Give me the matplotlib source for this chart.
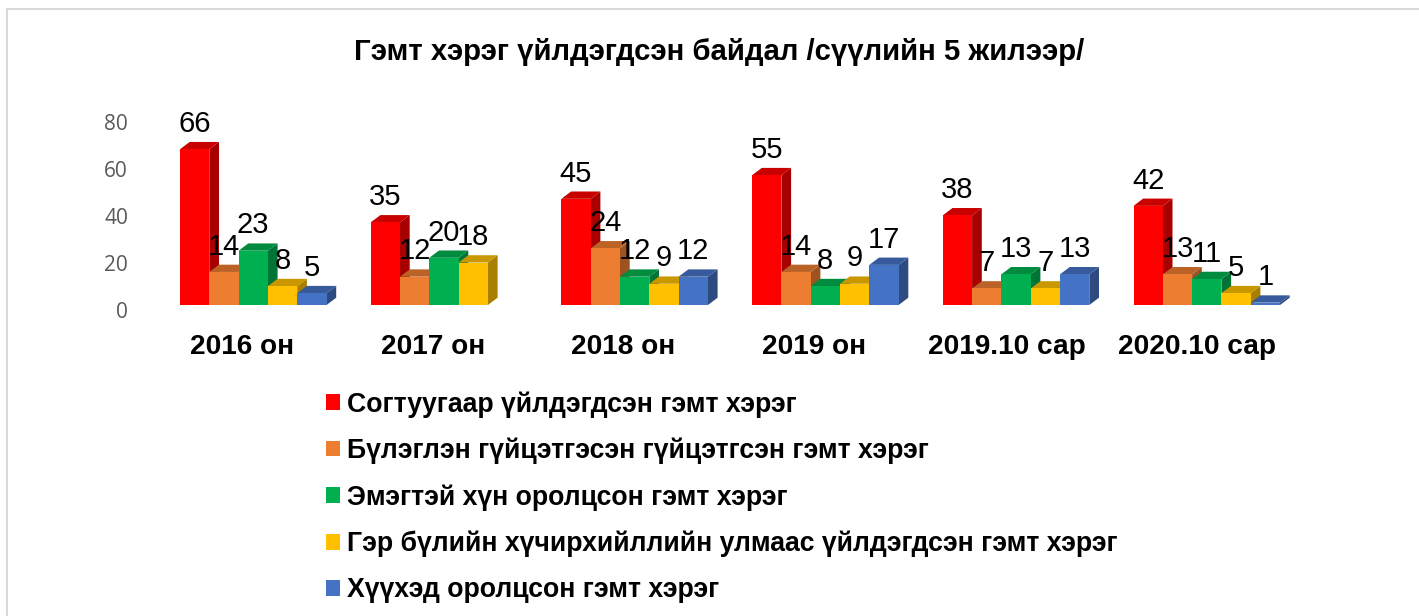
import matplotlib
matplotlib.use("Agg")
import matplotlib.pyplot as plt
from matplotlib.patches import Patch
from matplotlib.transforms import ScaledTranslation
from matplotlib.colors import to_rgb
import numpy as np

categories = ["2016 он", "2017 он", "2018 он", "2019 он", "2019.10 сар", "2020.10 сар"]
series_names = [
    "Согтуугаар үйлдэгдсэн гэмт хэрэг",
    "Бүлэглэн гүйцэтгэсэн гүйцэтгсэн гэмт хэрэг",
    "Эмэгтэй хүн оролцсон гэмт хэрэг",
    "Гэр бүлийн хүчирхийллийн улмаас үйлдэгдсэн гэмт хэрэг",
    "Хүүхэд оролцсон гэмт хэрэг",
]
drunk = [66, 35, 45, 55, 38, 42]
group_crime = [14, 12, 24, 14, 7, 13]
women = [23, 20, 12, 8, 13, 11]
domestic = [8, 18, 9, 9, 7, 5]
children = [5, None, 12, 17, 13, 1]
series_values = [drunk, group_crime, women, domestic, children]
colors = ["#FF0000", "#ED7D31", "#00B050", "#FFC000", "#4472C4"]
y_ticks = [0, 20, 40, 60, 80]

W, H = 1419, 616
fig = plt.figure(figsize=(W / 100, H / 100), dpi=100, facecolor="white")

# Plot area in pixels
px_left, px_right, px_top, px_base = 100, 1320, 90, 305
ax = fig.add_axes([px_left / W, 1 - px_base / H, (px_right - px_left) / W, (px_base - px_top) / H])
px_per_unit = 2.36
px_per_group = 190.7
first_bar_px = 180.0
ax.set_xlim((px_left - first_bar_px) / px_per_group, (px_right - first_bar_px) / px_per_group)
ax.set_ylim(0, (px_base - px_top) / px_per_unit)
ax.patch.set_alpha(0)
for s in ax.spines.values():
    s.set_visible(False)

bw = 29.3 / px_per_group
dx = 9.7 / px_per_group
dy = 7.3 / px_per_unit
handles = []
for j, (name, vals, col) in enumerate(zip(series_names, series_values, colors)):
    rgb = np.array(to_rgb(col))
    side, top = rgb * 0.66, rgb * 0.79
    handles.append(Patch(facecolor=col, edgecolor="none", label=name))
    for i, v in enumerate(vals):
        if v is None:
            continue
        x0 = i + j * bw
        z = 2 + j + i * 0.01
        ax.fill([x0 + bw, x0 + bw + dx, x0 + bw + dx, x0 + bw],
                [0, dy, v + dy, v], color=side, lw=0, zorder=z, clip_on=False)
        ax.fill([x0, x0 + dx, x0 + bw + dx, x0 + bw],
                [v, v + dy, v + dy, v], color=top, lw=0, zorder=z, clip_on=False)
        ax.bar(x0, v, width=bw, align="edge", color=col, lw=0, zorder=z + 0.1)
        ax.annotate(str(v), (x0 + bw / 2, v), xytext=(0, 18.2), textcoords="offset points",
                    ha="center", va="center", fontsize=21, family="Liberation Sans",
                    color="black", zorder=20, annotation_clip=False)

# Axis ticks
ax.set_yticks(y_ticks)
ax.tick_params(axis="y", length=0, pad=0, labelsize=15, labelcolor="#595959")
ax.set_xticks([i + 62 / px_per_group for i in range(len(categories))])
ax.set_xticklabels(categories, fontsize=20.2, fontweight="bold", family="Liberation Sans", color="black")
ax.tick_params(axis="x", length=0, pad=20.8)
for lab in ax.get_yticklabels():
    lab.set_family("Open Sans")
    lab.set_transform(lab.get_transform() + ScaledTranslation(28 / 100, -5.5 / 100, fig.dpi_scale_trans))
for lab in ax.get_xticklabels()[-2:]:
    lab.set_transform(lab.get_transform() + ScaledTranslation(2 / 100, 0, fig.dpi_scale_trans))

ax.text(719.5 / W, 1 - 51.5 / H, "Гэмт хэрэг үйлдэгдсэн байдал /сүүлийн 5 жилээр/", transform=fig.transFigure,
        ha="center", va="center", fontsize=21.2, fontweight="bold", family="Liberation Sans", color="black")

leg = fig.legend(handles=handles, loc="upper left", bbox_to_anchor=(326 / W, 1 - 391 / H),
                 frameon=False, fontsize=19.2, handlelength=0.525, handleheight=0.525,
                 handletextpad=0.26, labelspacing=0.752, borderpad=0, borderaxespad=0)
for t in leg.get_texts():
    t.set_family("Liberation Sans")
    t.set_fontweight("bold")

# Outer border of the chart (left and top edges only)
fig.add_artist(plt.Line2D([7 / W, 7 / W], [0, 1 - 9 / H], color="#D9D9D9", lw=1.44, transform=fig.transFigure))
fig.add_artist(plt.Line2D([7 / W, 1], [1 - 9 / H, 1 - 9 / H], color="#D9D9D9", lw=1.44, transform=fig.transFigure))

fig.savefig("out.png", dpi=100)
